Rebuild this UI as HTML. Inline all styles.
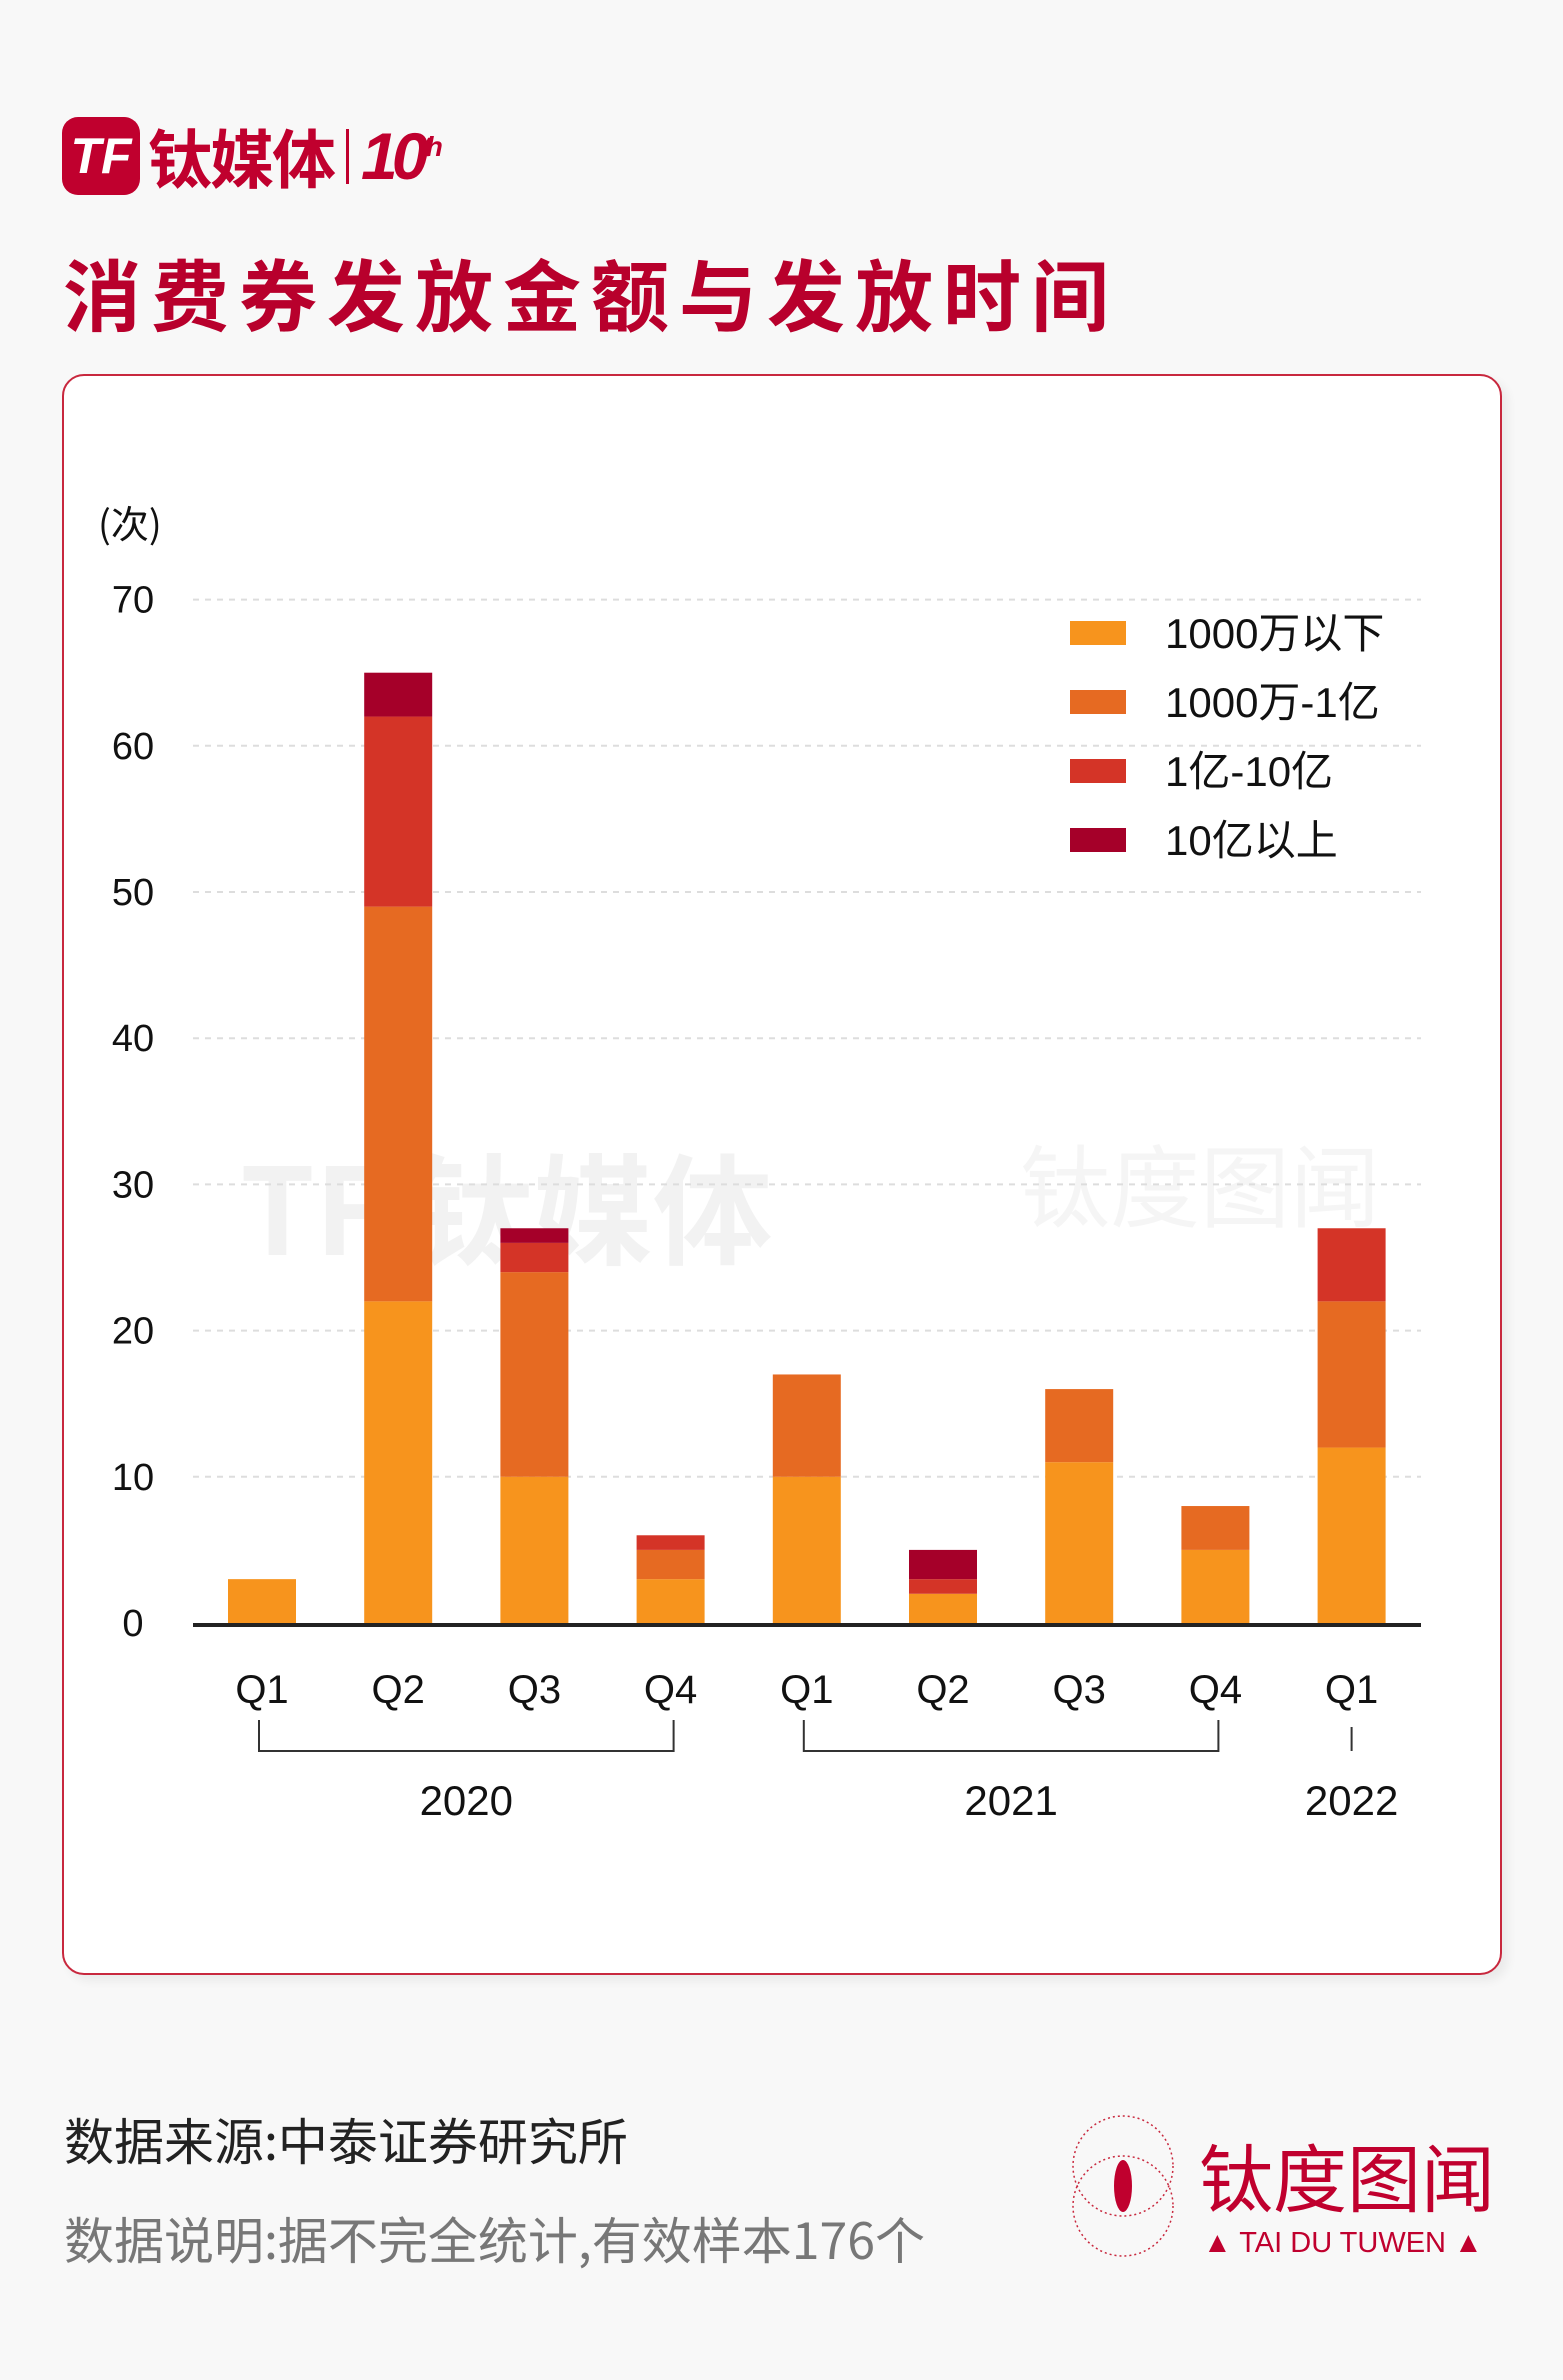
<!DOCTYPE html>
<html><head><meta charset="utf-8">
<style>
body{margin:0;background:#f8f8f8;width:1563px;height:2380px;position:relative;overflow:hidden;font-family:"Liberation Sans","Noto Sans CJK SC",sans-serif;}
.abs{position:absolute;}
</style></head>
<body>
<div class="abs" style="left:62px;top:117px;height:78px;display:flex;align-items:center;">
  <div style="width:78px;height:78px;background:#c0002e;border-radius:16px;color:#fff;font:italic bold 50px 'Liberation Sans';display:flex;align-items:center;justify-content:center;">TF</div>
  <div style="margin-left:8px;color:#c0002e;font:bold 64px 'Noto Sans CJK SC',sans-serif;letter-spacing:-2px;">钛媒体</div>
  <div style="width:3px;height:55px;background:#c0002e;margin:0 12px;"></div>
  <div style="color:#c0002e;font:bold italic 66px 'Liberation Sans';letter-spacing:-6px;">10<sup style="font-size:28px;">th</sup></div>
</div>
<div class="abs" style="left:63px;top:236px;color:#b8002c;font:bold 78px 'Noto Sans CJK SC',sans-serif;letter-spacing:10px;">消费券发放金额与发放时间</div>
<div class="abs" style="left:62px;top:374px;width:1436px;height:1597px;background:#fff;border:2px solid #c8283e;border-radius:22px;box-shadow:6px 6px 10px rgba(0,0,0,0.06);"></div>
<svg class="abs" style="left:0;top:0" width="1563" height="2380" id="chart"></svg>
<div class="abs" style="left:64px;top:2103px;font:50px 'Noto Sans CJK SC',sans-serif;color:#222;">数据来源:中泰证券研究所</div>
<div class="abs" style="left:64px;top:2202px;font:50px 'Noto Sans CJK SC',sans-serif;color:#777;">数据说明:据不完全统计,有效样本176个</div>
<svg class="abs" style="left:1065px;top:2110px" width="450" height="165">
  <circle cx="58" cy="56" r="50" fill="none" stroke="#c8283e" stroke-width="1.5" stroke-dasharray="2 3"/>
  <circle cx="58" cy="96" r="50" fill="none" stroke="#c8283e" stroke-width="1.5" stroke-dasharray="2 3"/>
  <ellipse cx="58" cy="76" rx="9" ry="26" fill="#c0002e"/>
  <text x="134" y="96" font-family="Noto Sans CJK SC" font-size="74" fill="#c0002e">钛度图闻</text>
  <text x="138" y="142" font-family="Liberation Sans" font-size="29" fill="#c0002e">▲ TAI DU TUWEN ▲</text>
</svg>
<script>
const categories=["Q1","Q2","Q3","Q4","Q1","Q2","Q3","Q4","Q1"];
const seriesNames=["1000万以下","1000万-1亿","1亿-10亿","10亿以上"];
const s1=[3,22,10,3,10,2,11,5,12];
const s2=[0,27,14,2,7,0,5,3,10];
const s3=[0,13,2,1,0,1,0,0,5];
const s4=[0,3,1,0,0,2,0,0,0];
const yTicks=[0,10,20,30,40,50,60,70];
const colors=["#f7941d","#e66a22","#d43427","#a50029"];
const NS="http://www.w3.org/2000/svg";
const svg=document.getElementById('chart');
const y0=1623,unit=14.62,x0=262,step=136.2,bw=68;
const y=v=>y0-v*unit, x=i=>x0+i*step;
function mk(t,a,txt){const e=document.createElementNS(NS,t);for(const k in a)e.setAttribute(k,a[k]);if(txt!==undefined)e.textContent=txt;svg.appendChild(e);return e;}
let w=mk('text',{x:240,y:1255,'font-family':'Noto Sans CJK SC','font-size':120,'font-weight':'bold',fill:'#000','fill-opacity':0.05},'TF 钛媒体');


let w2=mk('text',{x:1020,y:1220,'font-family':'Noto Sans CJK SC','font-size':90,fill:'#000','fill-opacity':0.04},'钛度图闻');


yTicks.forEach(t=>{
  if(t>0){const g=mk('line',{x1:193,x2:1421,y1:y(t),y2:y(t),stroke:'#ddd','stroke-width':2,'stroke-dasharray':'6 6'});
  
  }
  const l=mk('text',{x:133,y:y(t)+13,'text-anchor':'middle','font-family':'Liberation Sans','font-size':38,fill:'#111'},t);
  
  
});
const yl=mk('text',{x:98,y:538,'font-family':'Noto Sans CJK SC','font-size':38,fill:'#111'},'(次)');


const series=[s1,s2,s3,s4];
categories.forEach((c,i)=>{
  let base=0;
  series.forEach((s,k)=>{
    const v=s[i]; if(!v)return;
    const r=mk('rect',{x:x(i)-bw/2,y:y(base+v),width:bw,height:v*unit,fill:colors[k]});
    
    
    base+=v;
  });
  const t=mk('text',{x:x(i),y:1703,'text-anchor':'middle','font-family':'Liberation Sans','font-size':40,fill:'#111'},c);
  
  
});
const ax=mk('line',{x1:193,x2:1421,y1:y0+2,y2:y0+2,stroke:'#222','stroke-width':4});


const brackets=[[0,3,'2020'],[4,7,'2021'],[8,8,'2022']];
brackets.forEach(([a,b,lab])=>{
  let p;
  if(a===b)p=mk('path',{d:`M${x(a)} 1727 V1751`,stroke:'#333','stroke-width':2,fill:'none'});
  else p=mk('path',{d:`M${x(a)-3} 1720 V1751 H${x(b)+3} V1720`,stroke:'#333','stroke-width':2,fill:'none'});
  
  
  const t=mk('text',{x:(x(a)+x(b))/2,y:1815,'text-anchor':'middle','font-family':'Liberation Sans','font-size':42,fill:'#111'},lab);
  
  
});
seriesNames.forEach((n,k)=>{
  const yy=633+k*69;
  const r=mk('rect',{x:1070,y:yy-12,width:56,height:24,fill:colors[k]});
  
  
  const t=mk('text',{x:1165,y:yy+15,'font-family':'Liberation Sans, Noto Sans CJK SC','font-size':42,fill:'#111'},n);
  
  
});
</script>
</body></html>
